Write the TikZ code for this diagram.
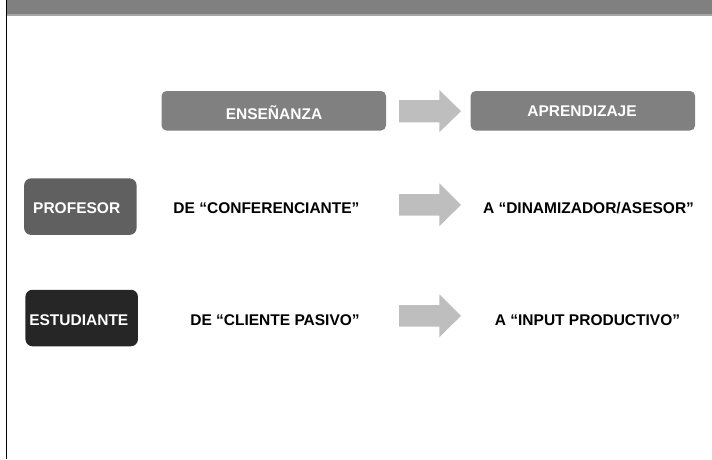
\documentclass[tikz,border=0pt]{standalone}
\usepackage{fontspec}
\setmainfont{Liberation Sans}

\definecolor{bargrey}{RGB}{128,128,128}
\definecolor{barline}{RGB}{166,166,166}
\definecolor{headgrey}{RGB}{128,128,128}
\definecolor{profgrey}{RGB}{96,96,96}
\definecolor{studgrey}{RGB}{38,38,38}
\definecolor{arrowgrey}{RGB}{190,190,190}

\tikzset{every picture/.style={line width=0.75pt}}
\tikzset{
  lbl/.style={font=\fontsize{15.5}{18}\selectfont\bfseries, inner sep=0pt, anchor=base},
  boxlbl/.style={lbl, text=white},
  topbox/.style={fill=headgrey, rounded corners=5pt, inner sep=0pt, minimum width=224.5pt, minimum height=39.5pt},
  sidebox/.style={rounded corners=7pt, inner sep=0pt, minimum width=112.5pt, minimum height=56.5pt}
}

\begin{document}
\begin{tikzpicture}[x=1pt,y=1pt,yscale=-1,xscale=1]
    \useasboundingbox (0,0) rectangle (712,459);

    %Shape: Rectangle [id:bar]
    \fill [bargrey] (7.3,0) -- (712,0) -- (712,14) -- (7.3,14) -- cycle ;
    \fill [barline] (7.3,14) -- (712,14) -- (712,15.6) -- (7.3,15.6) -- cycle ;
    %Straight Lines [id:leftrule]
    \draw [line width=1.6] (6.5,0) -- (6.5,459) ;

    %Shape: Rounded Rect [id:ensenanza]
    \node [topbox] (ensenanza) at (273.75,110.75) {};
    %Shape: Rounded Rect [id:aprendizaje]
    \node [topbox] (aprendizaje) at (582.85,110.75) {};
    %Shape: Rounded Rect [id:profesor]
    \node [sidebox, fill=profgrey] (profesor) at (80.35,206.65) {};
    %Shape: Rounded Rect [id:estudiante]
    \node [sidebox, fill=studgrey] (estudiante) at (81.7,318) {};

    %Shape: Right Arrow [id:arrowA]
    \fill [arrowgrey] (399,100) -- (439.3,100) -- (439.3,90) -- (461,111.15) -- (439.3,132.3) -- (439.3,122.3) -- (399,122.3) -- cycle ;
    %Shape: Right Arrow [id:arrowB]
    \fill [arrowgrey] (399,194) -- (439.3,194) -- (439.3,183.3) -- (461,204.8) -- (439.3,226.3) -- (439.3,215.7) -- (399,215.7) -- cycle ;
    %Shape: Right Arrow [id:arrowC]
    \fill [arrowgrey] (399,305) -- (439.3,305) -- (439.3,294.3) -- (461,315.8) -- (439.3,337.3) -- (439.3,326.7) -- (399,326.7) -- cycle ;

    % Text Node
    \node [boxlbl] (ensenanzaTxt) at (274,119.3) {ENSEÑANZA};
    % Text Node
    \node [boxlbl] (aprendizajeTxt) at (582,116.8) {APRENDIZAJE};
    % Text Node
    \node [boxlbl] (profesorTxt) at (76.7,213) {PROFESOR};
    % Text Node
    \node [boxlbl] (estudianteTxt) at (78.8,325.7) {ESTUDIANTE};
    % Text Node
    \node [lbl] (deConf) at (266.5,213) {DE “CONFERENCIANTE”};
    % Text Node
    \node [lbl] (aDinam) at (588.5,213) {A “DINAMIZADOR/ASESOR”};
    % Text Node
    \node [lbl] (deCliente) at (275,325.7) {DE “CLIENTE PASIVO”};
    % Text Node
    \node [lbl] (aInput) at (587.5,325.7) {A “INPUT PRODUCTIVO”};

\end{tikzpicture}
\end{document}
